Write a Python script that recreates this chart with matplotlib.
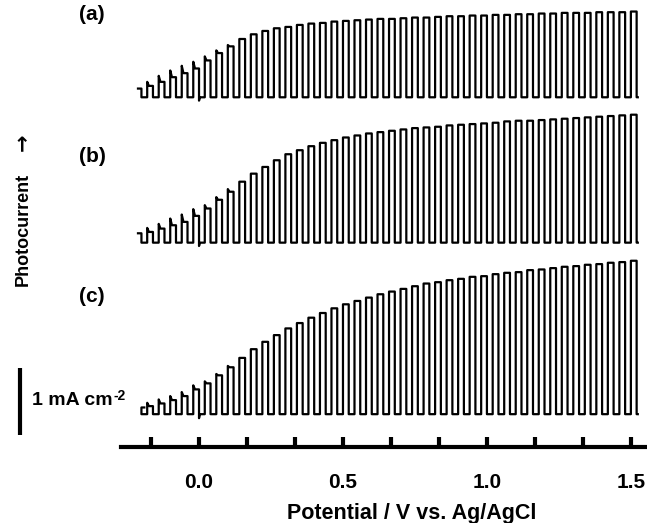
import numpy as np
import matplotlib.pyplot as plt

plt.rcParams['font.family'] = ['Liberation Sans', 'DejaVu Sans']
plt.rcParams['font.weight'] = 'bold'

# chopped-light scan: light on/off every 20 mV
FIRST_ON = -0.18      # V, first light-on edge
PERIOD = 0.04         # V per on/off cycle
SPIKE = 0.006         # V, width of the transient spike on small pulses

tick_pos = np.arange(-1, 10) / 6
tick_labels = ['', '0.0', '', '', '0.5', '', '', '1.0', '', '', '1.5']

# photocurrent at light-on (mA cm-2) for each pulse
peaks_a = [0.23, 0.32, 0.40, 0.47, 0.53, 0.61, 0.70, 0.78, 0.87, 0.94, 0.99,
           1.03, 1.05, 1.08, 1.10, 1.11, 1.13, 1.14, 1.15, 1.16, 1.17, 1.17,
           1.18, 1.19, 1.19, 1.20, 1.21, 1.21, 1.22, 1.22, 1.23, 1.23, 1.24,
           1.24, 1.25, 1.25, 1.26, 1.26, 1.26, 1.27, 1.27, 1.27, 1.28]
peaks_b = [0.22, 0.28, 0.36, 0.42, 0.50, 0.56, 0.68, 0.80, 0.91, 1.03, 1.13,
           1.23, 1.32, 1.38, 1.44, 1.49, 1.53, 1.57, 1.60, 1.63, 1.65, 1.67,
           1.69, 1.71, 1.72, 1.73, 1.75, 1.76, 1.77, 1.78, 1.79, 1.81, 1.82,
           1.82, 1.83, 1.84, 1.85, 1.86, 1.87, 1.88, 1.89, 1.90, 1.91]
peaks_c = [0.17, 0.22, 0.27, 0.33, 0.43, 0.49, 0.60, 0.72, 0.84, 0.97, 1.08,
           1.18, 1.28, 1.36, 1.44, 1.51, 1.58, 1.64, 1.69, 1.74, 1.79, 1.83,
           1.87, 1.91, 1.95, 1.97, 2.00, 2.02, 2.05, 2.06, 2.09, 2.11, 2.12,
           2.15, 2.16, 2.18, 2.20, 2.21, 2.23, 2.24, 2.26, 2.27, 2.29]

# steady level after the spike, first pulses only
plateau_a = [0.17, 0.23, 0.30, 0.36, 0.43, 0.55, 0.66, 0.76]
plateau_b = [0.16, 0.21, 0.26, 0.31, 0.40, 0.51, 0.64, 0.76]
plateau_c = [0.12, 0.16, 0.21, 0.27, 0.37, 0.46, 0.58, 0.70]

# vertical offsets of the stacked curves and the current before the 1st pulse
offsets = [5.22, 3.05, 0.49]
lead = [0.13, 0.14, 0.10]
starts = [-0.212, -0.212, -0.19]
dips = [0.05, 0.05, 0.06]   # cathodic dip after pulse 5
labels = ['(a)', '(b)', '(c)']


def chopped_trace(base, lead_i, peaks, plateaus, dip, v0):
    v = [v0, FIRST_ON - PERIOD / 2, FIRST_ON - PERIOD / 2]
    cur = [base + lead_i, base + lead_i, base]
    for k, pk in enumerate(peaks):
        on = FIRST_ON + k * PERIOD
        off = on + PERIOD / 2
        pl = plateaus[k] if k < len(plateaus) else pk
        d = dip if k == 4 else 0.0
        v += [on, on, on + SPIKE, off, off, off + 0.003]
        cur += [base, base + pk, base + pl, base + pl, base - d, base]
    v.append(off + 0.004)
    cur.append(base)
    return v, cur


fig = plt.figure(figsize=(6.47, 5.23), dpi=100)
ax = fig.add_axes([121 / 647, 76 / 523, 526 / 647, 447 / 523])
ax.set_xlim(-0.271, 1.556)
ax.set_ylim(0, 6.672)

all_peaks = [peaks_a, peaks_b, peaks_c]
all_plat = [plateau_a, plateau_b, plateau_c]
for n in range(3):
    v, cur = chopped_trace(offsets[n], lead[n], all_peaks[n], all_plat[n],
                           dips[n], starts[n])
    ax.plot(v, cur, color='black', lw=1.6, clip_on=False)

for s in ['left', 'right', 'top']:
    ax.spines[s].set_visible(False)
ax.spines['bottom'].set_linewidth(3)
ax.set_yticks([])
ax.set_xticks(tick_pos)
ax.set_xticklabels(tick_labels)
ax.tick_params(axis='x', direction='in', length=7, width=3, pad=19,
               labelsize=15)

# 1 mA cm-2 scale bar
ax.plot([-0.622, -0.622], [0.18, 1.18], color='black', lw=3, clip_on=False,
        solid_capstyle='butt')
t = ax.text(-0.58, 0.70, '1 mA cm', fontsize=14, fontweight='bold',
            ha='left', va='center', clip_on=False)
ax.annotate('-2', xy=(1.0, 1.0), xycoords=t, xytext=(0.5, 2),
            textcoords='offset points', fontsize=10, fontweight='bold',
            ha='left', va='top')

for lab, y in zip(labels, [14, 156, 297]):
    fig.text(79 / 647, 1 - y / 523, lab, fontsize=15, fontweight='bold',
             ha='left', va='center')

fig.text(23 / 647, 1 - 229 / 523, 'Photocurrent', rotation=90,
         fontsize=13, fontweight='bold', ha='center', va='center')
fig.text(23 / 647, 1 - 142 / 523, '\u2192', rotation=90, family='DejaVu Sans',
         fontsize=15, fontweight='bold', ha='center', va='center')
fig.text(412 / 647, 1 - 513 / 523, 'Potential / V vs. Ag/AgCl', fontsize=15.5,
         fontweight='bold', ha='center', va='center')

fig.savefig('out.png', dpi=100)
